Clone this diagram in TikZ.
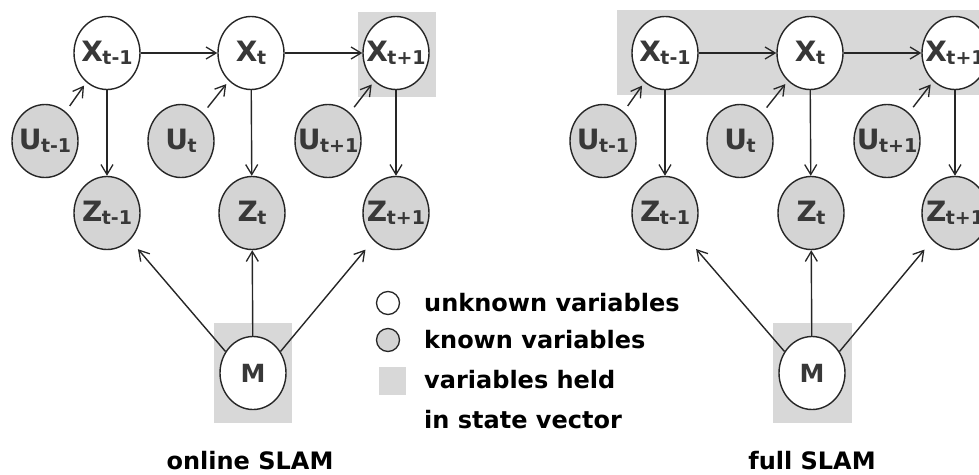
\documentclass[tikz,border=0pt]{standalone}
\usepackage{fontspec}
\setmainfont{DejaVu Sans}
\usetikzlibrary{shapes.geometric,arrows.meta}
\definecolor{inkc}{HTML}{262626}
\definecolor{labc}{HTML}{383838}
\definecolor{knownfill}{HTML}{D4D4D4}
\definecolor{heldfill}{HTML}{D8D8D8}
\newcommand\vlab[2]{#1\kern-0.5pt\raisebox{-3pt}{\fontsize{19}{19}\selectfont #2}}
\tikzset{
  var/.style={ellipse, draw=inkc, line width=1.4pt, inner sep=0pt,
    minimum width=66pt, minimum height=73pt},
  unknown/.style={var, fill=white},
  known/.style={var, fill=knownfill},
  vtext/.style={label={[text=labc, inner sep=0pt,
    font=\fontsize{28}{28}\selectfont\bfseries]center:#1}},
  held/.style={fill=heldfill, draw=none},
  arr/.style={draw=inkc, line width=1.4pt,
    -{Straight Barb[length=10pt,width=12pt,line width=1.3pt]}},
  caption/.style={font=\fontsize{24}{24}\selectfont\bfseries, text=black, inner sep=0pt},
  legtext/.style={font=\fontsize{24}{24}\selectfont\bfseries, text=black,
    anchor=west, inner sep=0pt},
}
\begin{document}
\begin{tikzpicture}[x=1pt,y=-1pt]
\useasboundingbox (0,0) rectangle (979,474);
\clip (0,0) rectangle (979,474);

% state-vector shading
\fill[held] (358,12) rectangle (436,97);
\fill[held] (214,323) rectangle (292,423);
\fill[held] (617,10) rectangle (985,95);
\fill[held] (773,323) rectangle (852,423);

% ---------- online SLAM ----------
\node[unknown, vtext={\vlab{X}{t-1}}] (ax1) at (107,53) {};
\node[unknown, vtext={\vlab{X}{t}}] (ax2) at (251,53) {};
\node[unknown, vtext={\vlab{X}{t+1}}] (ax3) at (396,53) {};
\node[known, vtext={\vlab{U}{t-1}}] (au1) at (45,141) {};
\node[known, vtext={\vlab{U}{t}}] (au2) at (181,141) {};
\node[known, vtext={\vlab{U}{t+1}}] (au3) at (328,141) {};
\node[known, vtext={\vlab{Z}{t-1}}] (az1) at (107,213) {};
\node[known, vtext={\vlab{Z}{t}}] (az2) at (252,213) {};
\node[known, vtext={\vlab{Z}{t+1}}] (az3) at (396,213) {};
\node[unknown, vtext={\fontsize{25}{25}\selectfont M}] (am) at (253,373) {};

\draw[arr] (ax1) -- (ax2);
\draw[arr] (ax2) -- (ax3);
\foreach \i in {1,2,3}{
  \draw[arr] (ax\i) -- (az\i);
  \draw[arr, shorten <=7pt, shorten >=4pt] (au\i) -- (ax\i);
}
\draw[arr, shorten >=12pt] (am.142) -- (az1);
\draw[arr] (am) -- (az2);
\draw[arr, shorten >=12pt] (am.38) -- (az3);

\node[caption] (cap1) at (250,461) {online SLAM};

% ---------- full SLAM ----------
\node[unknown, vtext={\vlab{X}{t-1}}] (bx1) at (665,53) {};
\node[unknown, vtext={\vlab{X}{t}}] (bx2) at (810,53) {};
\node[unknown, vtext={\vlab{X}{t+1}}] (bx3) at (955,53) {};
\node[known, vtext={\vlab{U}{t-1}}] (bu1) at (603,141) {};
\node[known, vtext={\vlab{U}{t}}] (bu2) at (740,141) {};
\node[known, vtext={\vlab{U}{t+1}}] (bu3) at (887,141) {};
\node[known, vtext={\vlab{Z}{t-1}}] (bz1) at (665,213) {};
\node[known, vtext={\vlab{Z}{t}}] (bz2) at (811,213) {};
\node[known, vtext={\vlab{Z}{t+1}}] (bz3) at (955,213) {};
\node[unknown, vtext={\fontsize{25}{25}\selectfont M}] (bm) at (812,373) {};

\draw[arr] (bx1) -- (bx2);
\draw[arr] (bx2) -- (bx3);
\foreach \i in {1,2,3}{
  \draw[arr] (bx\i) -- (bz\i);
  \draw[arr, shorten <=7pt, shorten >=4pt] (bu\i) -- (bx\i);
}
\draw[arr, shorten >=12pt] (bm.142) -- (bz1);
\draw[arr] (bm) -- (bz2);
\draw[arr, shorten >=12pt] (bm.38) -- (bz3);

\node[caption] (cap2) at (812,461) {full SLAM};

% ---------- legend ----------
\node[circle, draw=inkc, line width=1.3pt, fill=white, minimum size=23pt, inner sep=0pt] (lu) at (388,303) {};
\node[circle, draw=inkc, line width=1.3pt, fill=knownfill, minimum size=23pt, inner sep=0pt] (lk) at (388,340) {};
\node[held, minimum width=27pt, minimum height=28pt, inner sep=0pt] (lh) at (392,381) {};
\node[legtext] (tu) at (424,303) {unknown variables};
\node[legtext] (tk) at (424,340) {known variables};
\node[legtext] (th) at (424,380) {variables held};
\node[legtext] (ts) at (424,420) {in state vector};
\end{tikzpicture}
\end{document}
